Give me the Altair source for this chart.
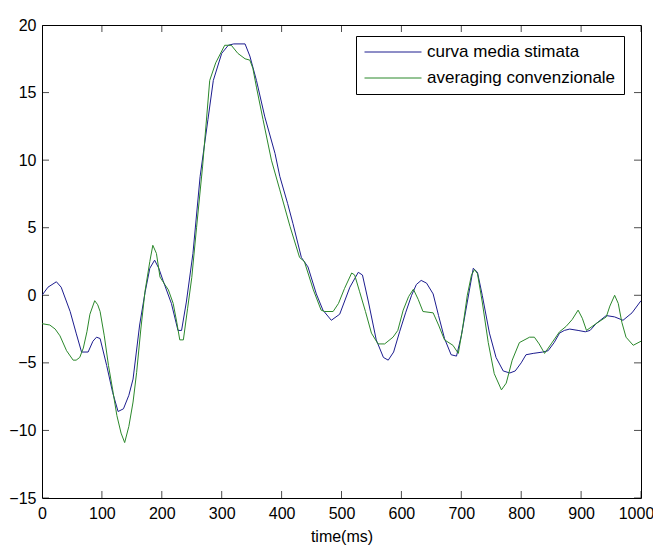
import altair as alt
import pandas as pd

series_names = ["curva media stimata", "averaging convenzionale"]
series_colors = ["#1c1c8f", "#2b882b"]

blue_t = [0, 10, 24, 32, 47, 57, 66, 77, 85, 91, 97, 108, 118, 127, 136, 145, 152, 163, 172, 180,
          188, 195, 202, 216, 227, 233, 241, 252, 264, 277, 286, 300, 311, 320, 339, 347, 358, 372, 389, 397,
          410, 419, 433, 444, 458, 469, 483, 497, 514, 528, 535, 545, 558, 570, 578, 587, 597, 607, 617,
          625, 633, 642, 653, 662, 672, 683, 692, 700, 710, 720, 727, 735, 747, 758, 770, 781, 790, 800, 808,
          820, 836, 845, 855, 864, 872, 881, 895, 907, 915, 925, 942, 956, 970, 985, 1000]
blue_v = [0.0, 0.6, 1.0, 0.6, -1.2, -2.8, -4.2, -4.2, -3.4, -3.1, -3.2, -5.2, -7.2, -8.6, -8.4, -7.4, -6.2, -2.2, 0.2, 2.0,
          2.6, 2.0, 1.1, -0.6, -2.6, -2.6, -0.5, 3.1, 8.8, 13.0, 15.9, 17.9, 18.5, 18.6, 18.6, 17.7, 15.9, 13.2, 10.5, 8.8,
          6.8, 5.3, 2.8, 2.1, 0.1, -1.1, -1.85, -1.4, 0.6, 1.7, 1.5, -0.5, -3.3, -4.6, -4.8, -4.2, -2.7, -1.3, 0.0,
          0.8, 1.1, 0.9, 0.1, -1.5, -3.2, -4.4, -4.5, -3.0, -0.5, 2.0, 1.7, 0.0, -2.8, -4.6, -5.6, -5.75, -5.6, -5.0, -4.4,
          -4.3, -4.2, -4.1, -3.5, -2.8, -2.6, -2.5, -2.6, -2.7, -2.6, -2.1, -1.5, -1.6, -1.85, -1.3, -0.4]

green_t = [0, 13, 22, 30, 41, 52, 57, 63, 69, 75, 80, 88, 93, 97, 104, 111, 118, 125, 132, 138,
           145, 152, 158, 165, 172, 180, 185, 191, 197, 205, 211, 219, 225, 230, 236, 243, 250, 258, 268, 280,
           290, 305, 316, 327, 339, 347, 352, 358, 369, 383, 397, 414, 430, 438, 453, 466, 472, 486, 495, 505,
           517, 522, 530, 540, 550, 561, 572, 586, 594, 603, 612, 620, 628, 636, 653, 662, 672, 686, 695, 702,
           710, 717, 722, 727, 735, 745, 755, 767, 775, 785, 797, 814, 822, 830, 839, 850, 864, 875, 885, 895,
           902, 909, 925, 942, 948, 956, 962, 968, 975, 987, 1000]
green_v = [-2.1, -2.2, -2.5, -3.0, -4.1, -4.8, -4.8, -4.6, -3.9, -2.7, -1.4, -0.4, -0.7, -1.2, -3.0, -5.2, -7.0, -8.9, -10.2, -10.9,
           -9.7, -7.9, -5.7, -2.5, 0.3, 2.5, 3.7, 3.1, 1.35, 0.8, 0.4, -0.6, -2.0, -3.3, -3.3, -1.0, 1.3, 5.0, 9.5, 15.9,
           17.2, 18.5, 18.5, 17.9, 17.5, 17.4, 16.8, 15.4, 13.0, 10.0, 7.8, 5.1, 2.8, 2.5, 0.4, -1.1, -1.2, -1.2, -0.6, 0.5,
           1.65, 1.5, 0.3, -1.2, -2.8, -3.6, -3.6, -3.1, -2.6, -1.1, -0.1, 0.45, -0.3, -1.2, -1.3, -2.2, -3.3, -3.7, -4.3, -2.5,
           0.0, 1.5, 1.9, 1.6, -0.5, -3.5, -5.8, -7.0, -6.5, -4.8, -3.5, -3.1, -3.1, -3.6, -4.3, -3.6, -2.7, -2.3, -1.8, -1.1,
           -1.7, -2.6, -2.1, -1.6, -0.8, 0.0, -0.6, -2.0, -3.1, -3.7, -3.4]

x_ticks = [0, 100, 200, 300, 400, 500, 600, 700, 800, 900, 1000]
y_ticks = [-15, -10, -5, 0, 5, 10, 15, 20]
x_min, x_max = 0, 1000
y_min, y_max = -15, 20

assert len(blue_t) == len(blue_v) and len(green_t) == len(green_v)

df = pd.concat([
    pd.DataFrame({"t": blue_t, "v": blue_v, "series": series_names[0]}),
    pd.DataFrame({"t": green_t, "v": green_v, "series": series_names[1]}),
], ignore_index=True)

xt = pd.DataFrame({"t": x_ticks * 2, "v": [y_min] * len(x_ticks) + [y_max] * len(x_ticks)})
yt = pd.DataFrame({"t": [x_min] * len(y_ticks) + [x_max] * len(y_ticks), "v": y_ticks * 2})

FONT = "Liberation Sans"
xs = alt.Scale(domain=[x_min, x_max], nice=False, zero=False)
ys = alt.Scale(domain=[y_min, y_max], nice=False, zero=False)
x_axis = alt.Axis(values=x_ticks, format="d", title="time(ms)", ticks=False, domain=False, grid=False,
                  labelPadding=7, titlePadding=7, labelFontSize=16, titleFontSize=16,
                  titleFontWeight="normal", labelFont=FONT, titleFont=FONT,
                  labelColor="black", titleColor="black", labelFlush=False,
                  labelOffset={"condition": {"test": f"datum.value >= {x_max}", "value": -5}, "value": 0})
y_axis = alt.Axis(values=y_ticks, format="d", title="", ticks=False, domain=False, grid=False,
                  labelPadding=6, labelFontSize=16, labelFont=FONT, labelColor="black",
                  labelFlush=False)

lines = alt.Chart(df).mark_line(strokeWidth=1, clip=True).encode(
    x=alt.X("t:Q", scale=xs, axis=x_axis),
    y=alt.Y("v:Q", scale=ys, axis=y_axis),
    color=alt.Color("series:N", scale=alt.Scale(domain=series_names, range=series_colors),
                    legend=alt.Legend(orient="none", legendX=314, legendY=11, title=None,
                                      symbolType="stroke", symbolSize=3249, symbolStrokeWidth=1,
                                      labelFontSize=17, labelFont=FONT, labelColor="black",
                                      labelLimit=400,
                                      strokeColor="black", fillColor="white", padding=8,
                                      clipHeight=16, rowPadding=9, labelOffset=5, cornerRadius=0)),
)

xticks = alt.Chart(xt).mark_tick(orient="vertical", size=14, thickness=1, color="black", clip=True).encode(
    x=alt.X("t:Q", scale=xs, axis=x_axis), y=alt.Y("v:Q", scale=ys, axis=y_axis))
yticks = alt.Chart(yt).mark_tick(orient="horizontal", size=14, thickness=1, color="black", clip=True).encode(
    x=alt.X("t:Q", scale=xs, axis=x_axis), y=alt.Y("v:Q", scale=ys, axis=y_axis))

chart = alt.layer(lines, xticks, yticks).properties(
    width=599, height=473,
    autosize=alt.AutoSizeParams(type="none"),
    padding={"left": 34, "top": 17, "right": 12, "bottom": 49},
).configure_view(stroke="black", strokeWidth=1)

chart.save("out.html", embed_options={"renderer": "svg", "actions": False})
